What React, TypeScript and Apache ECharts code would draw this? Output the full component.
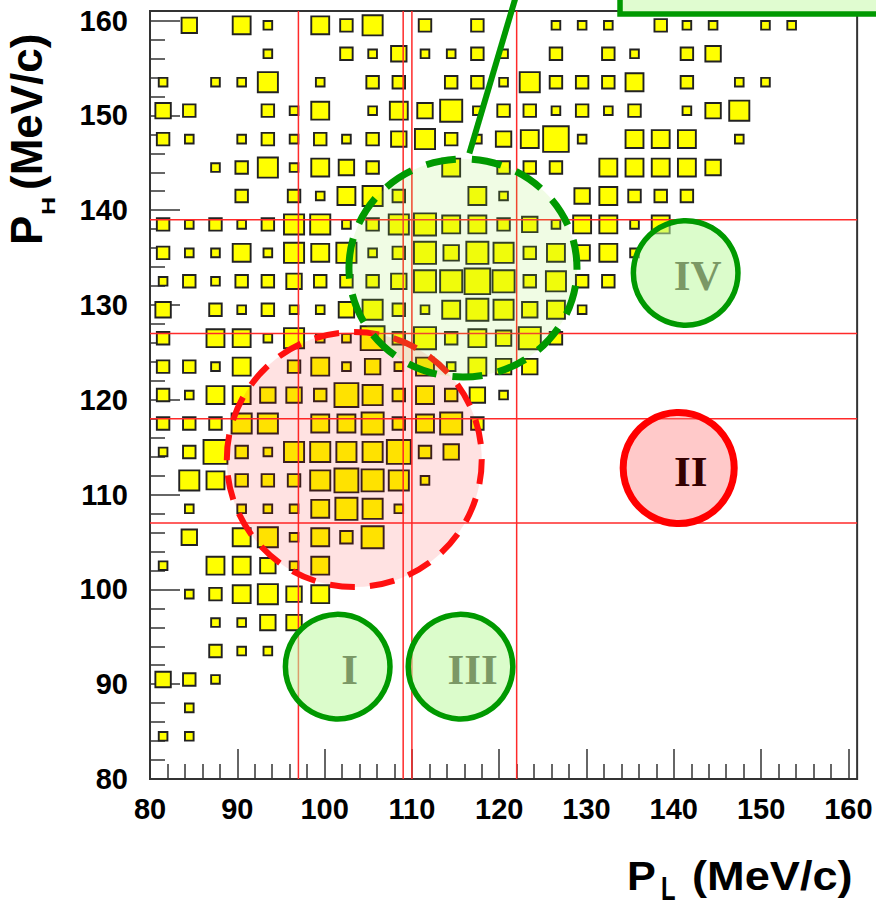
import React, { useEffect, useRef } from 'react';
import * as echarts from 'echarts';

// Bin centres (bins of width 3 MeV/c starting at 80)
const binCentersX = [81.5, 84.5, 87.5, 90.5, 93.5, 96.5, 99.5, 102.5, 105.5, 108.5, 111.5, 114.5, 117.5, 120.5, 123.5, 126.5, 129.5, 132.5, 135.5, 138.5, 141.5, 144.5, 147.5, 150.5, 153.5, 156.5, 159.5];
const binCentersY = [81.5, 84.5, 87.5, 90.5, 93.5, 96.5, 99.5, 102.5, 105.5, 108.5, 111.5, 114.5, 117.5, 120.5, 123.5, 126.5, 129.5, 132.5, 135.5, 138.5, 141.5, 144.5, 147.5, 150.5, 153.5, 156.5, 159.5];
const binWidth = 3;
const maxCount = 8;

// Cell contents, one row per P_H bin (bottom row first), one column per P_L bin
const countsByRow = [
  [0,0,0,0,0,0,0,0,0,0,0,0,0,0,0,0,0,0,0,0,0,0,0,0,0,0,0],
  [1,1,0,0,0,0,0,0,0,0,0,0,0,0,0,0,0,0,0,0,0,0,0,0,0,0,0],
  [0,1,0,0,0,0,0,0,0,0,0,0,0,0,0,0,0,0,0,0,0,0,0,0,0,0,0],
  [3,2,1,0,0,0,0,0,0,0,0,0,0,0,0,0,0,0,0,0,0,0,0,0,0,0,0],
  [0,0,2,1,1,0,0,0,0,0,0,0,0,0,0,0,0,0,0,0,0,0,0,0,0,0,0],
  [0,0,1,1,3,3,0,0,0,0,0,0,0,0,0,0,0,0,0,0,0,0,0,0,0,0,0],
  [0,1,2,4,5,3,4,0,0,0,0,0,0,0,0,0,0,0,0,0,0,0,0,0,0,0,0],
  [1,0,4,4,3,1,4,0,0,0,0,0,0,0,0,0,0,0,0,0,0,0,0,0,0,0,0],
  [0,3,0,4,5,1,4,2,6,0,0,0,0,0,0,0,0,0,0,0,0,0,0,0,0,0,0],
  [0,1,0,1,1,1,4,6,5,1,0,0,0,0,0,0,0,0,0,0,0,0,0,0,0,0,0],
  [0,5,4,2,2,2,5,7,6,5,1,0,0,0,0,0,0,0,0,0,0,0,0,0,0,0,0],
  [1,2,7,2,1,5,5,5,5,7,2,3,0,0,0,0,0,0,0,0,0,0,0,0,0,0,0],
  [2,2,2,5,5,0,4,4,6,2,4,6,2,0,0,0,0,0,0,0,0,0,0,0,0,0,0],
  [2,1,4,4,3,3,2,7,5,2,4,2,3,1,0,0,0,0,0,0,0,0,0,0,0,0,0],
  [2,2,1,4,0,2,4,1,3,1,4,1,4,3,3,0,0,0,0,0,0,0,0,0,0,0,0],
  [2,0,4,4,1,5,1,1,7,2,6,2,4,3,6,2,0,0,0,0,0,0,0,0,0,0,0],
  [3,0,2,1,2,1,1,3,5,2,1,4,6,5,3,4,1,0,0,0,0,0,0,0,0,0,0],
  [1,2,1,2,2,3,2,2,2,3,6,6,8,6,2,5,2,2,0,0,0,0,0,0,0,0,0],
  [2,1,1,4,1,5,4,5,1,2,6,3,6,5,2,4,3,4,1,0,0,0,0,0,0,0,0],
  [2,1,2,1,2,5,5,1,2,5,6,4,4,2,3,1,4,4,1,4,0,0,0,0,0,0,0],
  [0,0,0,2,0,2,1,4,5,2,0,0,4,1,0,0,3,4,2,2,2,0,0,0,0,0,0],
  [0,0,1,2,5,1,4,3,2,0,0,4,0,2,2,2,0,4,4,4,4,3,0,0,0,0,0],
  [2,1,0,1,2,1,2,1,2,3,5,2,1,3,4,8,1,0,4,4,4,0,1,0,0,0,0],
  [3,2,0,0,2,1,4,0,1,4,3,6,1,2,2,1,2,1,2,0,1,3,5,0,0,0,0],
  [1,0,1,1,5,0,1,0,2,2,0,2,2,1,5,2,2,2,4,0,2,0,1,1,0,0,0],
  [0,0,0,0,1,0,0,2,1,3,1,1,2,1,0,2,0,2,1,0,2,3,0,0,0,0,0],
  [0,3,0,4,1,0,4,2,5,0,2,0,2,0,0,1,1,1,0,2,1,1,0,1,1,0,0],
];

const axisMin = 80;
const axisMax = 160;
const histMax = 161;
const tickStep = 10;

// Cut lines (MeV/c)
const cutLinesX = [97, 109, 110, 122];
const cutLinesY = [107, 118, 127, 139];

// Dashed signal regions: centre (data), radii in data units
const dashedRegions = [
  { cx: 103.4, cy: 113.7, rx: 14.6, ry: 13.45, stroke: '#ff1010', fill: 'rgba(255,0,0,0.115)', width: 6, dash: [25, 15] },
  { cx: 115.85, cy: 133.9, rx: 13.06, ry: 11.5, stroke: '#009900', fill: 'rgba(155,235,75,0.15)', width: 7, dash: [30, 16] },
];

// Labelled control regions: centre (data), radius in P_L units
const labelledRegions = [
  { label: 'I', cx: 101.5, cy: 91.85, r: 5.99, kind: 'green' },
  { label: 'III', cx: 115.57, cy: 91.85, r: 5.99, kind: 'green' },
  { label: 'IV', cx: 141.36, cy: 133.38, r: 5.99, kind: 'green' },
  { label: 'II', cx: 140.56, cy: 112.8, r: 6.36, kind: 'red' },
];

// Pointer line and box (data coordinates)
const pointerFrom = [116.58, 146.0];
const pointerTo = [121.96, 162.7];
const noteBoxCorner = [133.84, 160.7];

const sansFont = '"Liberation Sans", Arial, Helvetica, sans-serif';
const serifFont = '"Liberation Serif", "Times New Roman", serif';

export default function App() {
  const ref = useRef<HTMLDivElement>(null);

  useEffect(() => {
    if (!ref.current) return;
    const chart = echarts.init(ref.current, null, { renderer: 'svg' });

    const data: number[][] = [];
    countsByRow.forEach((row, j) => {
      row.forEach((c, i) => {
        if (c > 0) data.push([binCentersX[i], binCentersY[j], c]);
      });
    });

    const tickStyle = { color: '#333', width: 1.5 };
    const labelStyle = {
      fontFamily: sansFont,
      fontWeight: 'bold' as const,
      fontSize: 29,
      color: '#000',
    };

    chart.setOption({
      animation: false,
      backgroundColor: '#ffffff',
      grid: { left: 150, top: 20.6, width: 698.4, height: 758.4, containLabel: false },
      xAxis: {
        type: 'value',
        min: axisMin,
        max: axisMax,
        interval: tickStep,
        axisLine: { show: false },
        axisTick: { show: true, inside: true, length: 30, lineStyle: tickStyle },
        minorTick: { show: true, splitNumber: 5, length: 15, lineStyle: tickStyle },
        splitLine: { show: false },
        axisLabel: { ...labelStyle, margin: 15 },
      },
      yAxis: {
        type: 'value',
        min: axisMin,
        max: axisMax,
        interval: tickStep,
        axisLine: { show: false },
        axisTick: { show: true, inside: true, length: 30, lineStyle: tickStyle },
        minorTick: { show: true, splitNumber: 5, length: 15, lineStyle: tickStyle },
        splitLine: { show: false },
        axisLabel: { ...labelStyle, margin: 22 },
      },
      series: [
        {
          type: 'custom',
          clip: false,
          z: 2,
          data,
          renderItem: (params: any, api: any) => {
            const p = api.coord([api.value(0), api.value(1)]);
            const w = api.size([binWidth, binWidth])[0];
            const s = w * Math.sqrt(api.value(2) / maxCount) - 0.6;
            return {
              type: 'rect',
              shape: { x: p[0] - s / 2, y: p[1] - s / 2, width: s, height: s },
              style: { fill: '#ffff00', stroke: '#222222', lineWidth: 1.9 },
            };
          },
        },
      ],
    });

    const P = (x: number, y: number) => chart.convertToPixel({ gridIndex: 0 }, [x, y]) as number[];
    const o = P(axisMin, axisMin);
    const e = P(histMax, histMax);
    const kx = (P(axisMin + 10, axisMin)[0] - o[0]) / 10;
    const ky = (o[1] - P(axisMin, axisMin + 10)[1]) / 10;

    const graphics: any[] = [];

    // frame
    graphics.push({
      type: 'rect',
      z: 4,
      shape: { x: o[0], y: e[1], width: e[0] - o[0], height: o[1] - e[1] },
      style: { fill: 'none', stroke: '#333', lineWidth: 2 },
    });

    // cut lines
    cutLinesX.forEach((v) => {
      const a = P(v, axisMin);
      const b = P(v, histMax);
      graphics.push({
        type: 'line', z: 5,
        shape: { x1: a[0], y1: a[1], x2: b[0], y2: b[1] },
        style: { stroke: '#ff2a2a', lineWidth: 1.5 },
      });
    });
    cutLinesY.forEach((v) => {
      const a = P(axisMin, v);
      const b = P(histMax, v);
      graphics.push({
        type: 'line', z: 5,
        shape: { x1: a[0], y1: a[1], x2: b[0], y2: b[1] },
        style: { stroke: '#ff2a2a', lineWidth: 1.5 },
      });
    });

    // dashed regions
    dashedRegions.forEach((r, k) => {
      const c = P(r.cx, r.cy);
      graphics.push({
        type: 'ellipse', z: 6 + k * 0.1,
        shape: { cx: c[0], cy: c[1], rx: r.rx * kx, ry: r.ry * ky },
        style: { fill: r.fill, stroke: r.stroke, lineWidth: r.width, lineDash: r.dash },
      });
    });

    // pointer line
    const pa = P(pointerFrom[0], pointerFrom[1]);
    const pb = P(pointerTo[0], pointerTo[1]);
    graphics.push({
      type: 'line', z: 7,
      shape: { x1: pa[0], y1: pa[1], x2: pb[0], y2: pb[1] },
      style: { stroke: '#009900', lineWidth: 6 },
    });

    // labelled regions
    labelledRegions.forEach((r) => {
      const c = P(r.cx, r.cy);
      const green = r.kind === 'green';
      graphics.push({
        type: 'circle', z: 8,
        shape: { cx: c[0], cy: c[1], r: r.r * kx },
        style: {
          fill: green ? 'rgba(190,250,160,0.55)' : 'rgba(255,120,120,0.4)',
          stroke: green ? '#009900' : '#ff0000',
          lineWidth: green ? 5.5 : 7,
        },
      });
      graphics.push({
        type: 'text', z: 9,
        x: c[0] + 12, y: c[1] + 3,
        style: {
          text: r.label,
          font: `bold 43px ${serifFont}`,
          fill: green ? '#7b9866' : '#330000',
          align: 'center', verticalAlign: 'middle',
          textAlign: 'center', textVerticalAlign: 'middle',
        },
      });
    });

    // note box at top right
    const nb = P(noteBoxCorner[0], noteBoxCorner[1]);
    graphics.push({
      type: 'rect', z: 9,
      shape: { x: nb[0], y: -40, width: 400, height: nb[1] + 40 },
      style: { fill: '#e0fcd0', stroke: '#009900', lineWidth: 5.5 },
    });

    const txt = (text: string, x: number, y: number, size: number, extra: any = {}) => ({
      type: 'text', z: 10, x, y, ...extra,
      style: {
        text,
        font: `bold ${size}px ${sansFont}`,
        fill: '#000',
        align: 'left', verticalAlign: 'middle',
        textAlign: 'left', textVerticalAlign: 'middle',
      },
    });

    // x-axis title  P_L (MeV/c)
    graphics.push(txt('P', 627, 876, 40, { scaleX: 1.08 }));
    graphics.push(txt('L', 661, 888, 34, { scaleX: 0.7 }));
    graphics.push(txt('(MeV/c)', 692, 876, 40, { scaleX: 1.13 }));

    // y-axis title  P_H (MeV/c), rotated
    const rot = Math.PI / 2;
    graphics.push(txt('P', 26, 245, 44, { rotation: rot }));
    graphics.push(txt('H', 49, 215, 18, { rotation: rot, scaleX: 1.4 }));
    graphics.push(txt('(MeV/c)', 26, 190, 44, { rotation: rot }));

    chart.setOption({ graphic: { elements: graphics } });

    return () => chart.dispose();
  }, []);

  return (
    <div
      ref={ref}
      style={{ position: 'fixed', left: 0, top: 0, width: 876, height: 908, background: '#fff' }}
    />
  );
}
